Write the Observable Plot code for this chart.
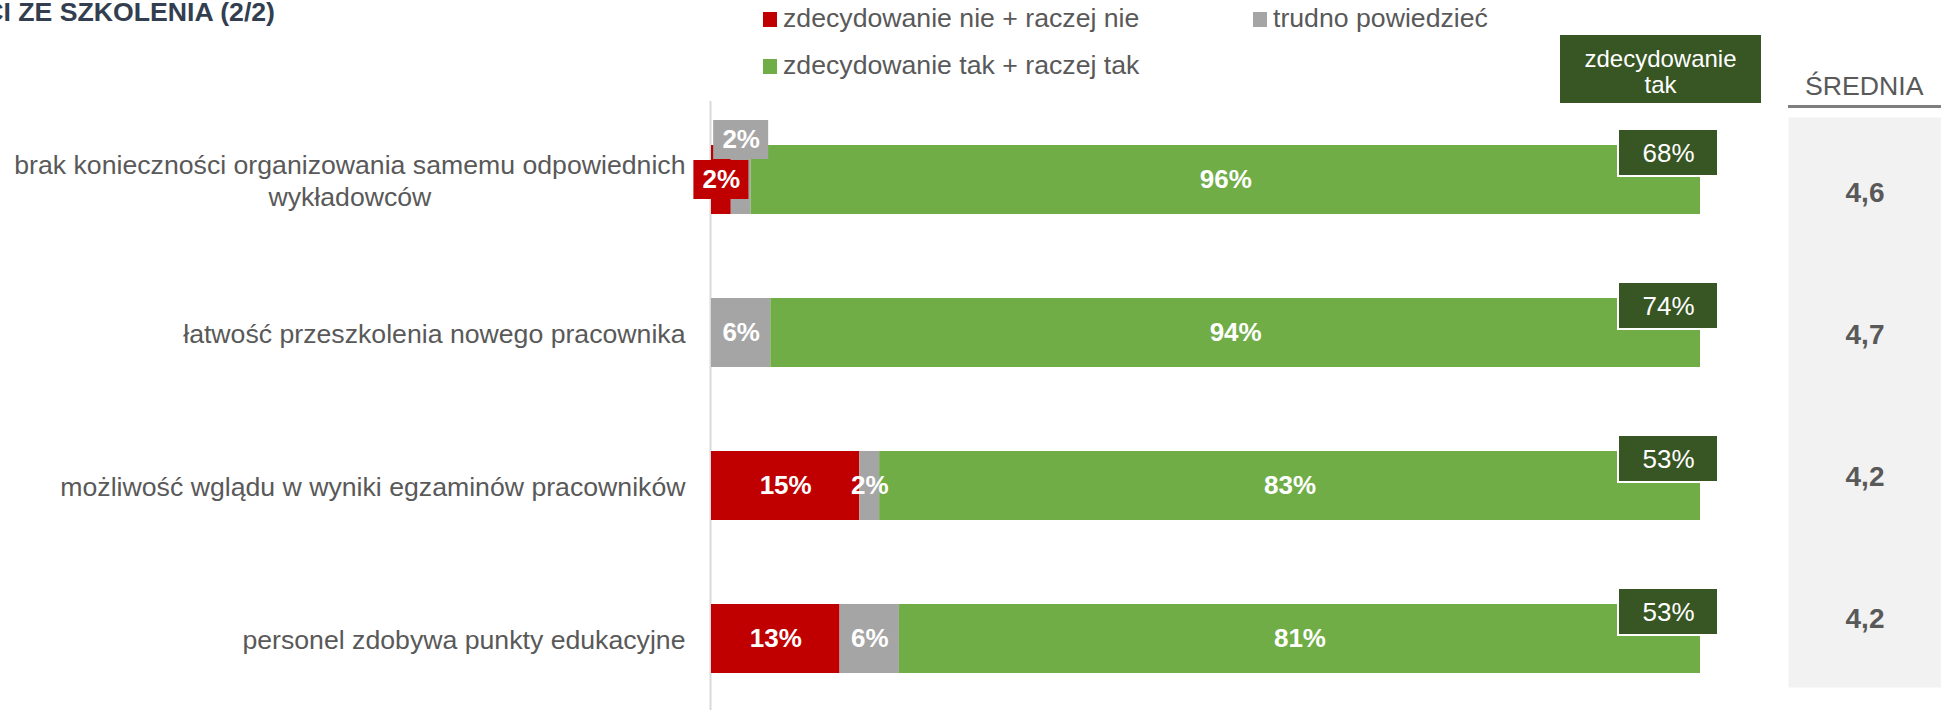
<!DOCTYPE html>
<html>
<head>
<meta charset="utf-8">
<script src="https://cdn.jsdelivr.net/npm/d3@7"></script>
<script src="https://cdn.jsdelivr.net/npm/@observablehq/plot@0.6"></script>
<style>
  html, body { margin: 0; padding: 0; background: #fff; }
  #root { position: relative; width: 1941px; height: 710px; overflow: hidden; font-family: "Liberation Sans", Arial, sans-serif; }
  .abs { position: absolute; }
  #title { top: -1px; right: 1666px; font-size: 26.67px; line-height: 26.67px; font-weight: bold; color: #333F50; white-space: nowrap; }
  .leg { font-size: 26.67px; line-height: 26.67px; color: #595959; white-space: nowrap; }
  .sw { display: inline-block; width: 14px; height: 15px; margin-right: 6px; vertical-align: baseline; }
  #head { left: 1560px; top: 35px; width: 201px; height: 68px; box-sizing: border-box; padding-top: 10.5px; background: #375623; color: #fff; font-size: 24px; line-height: 26px; text-align: center; }
  #sred { left: 1805px; top: 73.4px; font-size: 26.67px; line-height: 26.67px; color: #595959; white-space: nowrap; }
  #sredLine { left: 1788px; top: 105px; width: 153px; height: 3px; background: #7F7F7F; }
</style>
</head>
<body>
<div id="root"></div>
<script>
const categories = [
  "brak konieczności organizowania samemu odpowiednich\nwykładowców",
  "łatwość przeszkolenia nowego pracownika",
  "możliwość wglądu w wyniki egzaminów pracowników",
  "personel zdobywa punkty edukacyjne"
];
const seriesNames = ["zdecydowanie nie + raczej nie", "trudno powiedzieć", "zdecydowanie tak + raczej tak"];
const seriesColors = ["#C00000", "#A5A5A5", "#70AD47"];
const negative = [2, 0, 15, 13];
const neutral = [2, 6, 2, 6];
const positive = [96, 94, 83, 81];
const definitelyYes = [68, 74, 53, 53];
const means = [4.6, 4.7, 4.2, 4.2];
const titleText = "CI ZE SZKOLENIA (2/2)";
const headerText = ["zdecydowanie", "tak"];
const meanHeader = "ŚREDNIA";

// build tables
const rows = [];
const totals = [];
categories.forEach((cat, i) => {
  let acc = 0;
  [negative, neutral, positive].forEach((arr, s) => {
    const v = arr[i];
    rows.push({cat, series: seriesNames[s], value: v, x1: acc, x2: acc + v, mid: acc + v / 2, ci: i, si: s});
    acc += v;
  });
  totals.push({cat, end: acc, top: definitelyYes[i]});
});
const meanRows = categories.map((cat, i) => ({cat, mean: means[i]}));

const shown = rows.filter(d => d.value > 0);
// first row: both small segments get boxed callouts
const redCallout = shown.filter(d => d.ci === 0 && d.si === 0);
const grayCallout = shown.filter(d => d.ci === 0 && d.si === 1);
const plainLabels = shown.filter(d => !(d.ci === 0 && d.si < 2));
const pct = d => d.value + "%";

const root = document.getElementById("root");

const main = Plot.plot({
  width: 1941,
  height: 710,
  marginLeft: 711,
  marginRight: 241,
  marginTop: 144,
  marginBottom: 37,
  style: {fontFamily: "'Liberation Sans', Arial, sans-serif", background: "transparent", overflow: "visible"},
  x: {domain: [0, 100], axis: null},
  y: {type: "band", domain: categories, paddingInner: 0.55, paddingOuter: 0, align: 0.5},
  color: {domain: seriesNames, range: seriesColors},
  marks: [
    Plot.ruleX([0], {stroke: "#D9D9D9", strokeWidth: 2, dx: -1, insetTop: -43, insetBottom: -37}),
    Plot.barX(shown, {x1: "x1", x2: "x2", y: "cat", fill: "series"}),
    Plot.barX(grayCallout, {x1: "mid", x2: "mid", y: "cat", fill: "series", insetLeft: -27.5, insetRight: -27.5, insetTop: -25, insetBottom: 55}),
    Plot.barX(redCallout, {x1: "mid", x2: "mid", y: "cat", fill: "series", insetLeft: -27.5, insetRight: -27.5, insetTop: 15, insetBottom: 15}),
    Plot.text(plainLabels, {x: "mid", y: "cat", text: pct, fill: "white", fontWeight: "bold", fontSize: 26}),
    Plot.text(grayCallout, {x: "mid", y: "cat", text: pct, fill: "white", fontWeight: "bold", fontSize: 26, dy: -40}),
    Plot.text(redCallout, {x: "mid", y: "cat", text: pct, fill: "white", fontWeight: "bold", fontSize: 26}),
    Plot.barX(totals, {x1: "end", x2: "end", y: "cat", fill: "#375623", stroke: "#ffffff", strokeWidth: 2, insetLeft: -82, insetRight: -18, insetTop: -16, insetBottom: 38}),
    Plot.text(totals, {x: "end", y: "cat", dx: -32, dy: -26, text: d => d.top + "%", fill: "white", fontSize: 26}),
    Plot.axisY({tickSize: 0, tickPadding: 26, fontSize: 26.67, color: "#595959", lineHeight: 1.2, label: null})
  ]
});
main.classList.add("abs");
main.style.left = "0px";
main.style.top = "0px";
root.appendChild(main);

const meanPlot = Plot.plot({
  width: 153,
  height: 710,
  marginLeft: 0,
  marginRight: 0,
  marginTop: 117,
  marginBottom: 23,
  style: {fontFamily: "'Liberation Sans', Arial, sans-serif", background: "transparent"},
  x: {axis: null},
  y: {type: "band", domain: categories, padding: 0, axis: null},
  marks: [
    Plot.frame({fill: "#F2F2F2", stroke: "none"}),
    Plot.text(meanRows, {y: "cat", frameAnchor: "middle", text: d => d.mean.toFixed(1).replace(".", ","), fontSize: 28, fontWeight: "bold", fill: "#595959", dy: 4})
  ]
});
meanPlot.classList.add("abs");
meanPlot.style.left = "1788px";
meanPlot.style.top = "0px";
root.appendChild(meanPlot);

// center secondary lines of multi-line category labels under the first line
main.querySelectorAll('g[aria-label="y-axis tick label"] text').forEach(t => {
  const spans = Array.from(t.querySelectorAll("tspan"));
  if (spans.length > 1) {
    const ws = spans.map(s => s.getComputedTextLength());
    const w = Math.max(...ws);
    spans.forEach((s, k) => s.setAttribute("x", -(w - ws[k]) / 2));
  }
});

// HTML overlays: title, legend, header
function add(cls, css) {
  const d = document.createElement("div");
  d.className = "abs " + cls;
  Object.assign(d.style, css || {});
  root.appendChild(d);
  return d;
}
const title = add("", {}); title.id = "title"; title.textContent = titleText;

const legendPos = [
  {left: "763px", top: "5.4px"},
  {left: "1253px", top: "5.4px"},
  {left: "763px", top: "52.4px"}
];
seriesNames.forEach((name, i) => {
  const d = add("leg", legendPos[i]);
  const sw = document.createElement("span");
  sw.className = "sw";
  sw.style.background = seriesColors[i];
  d.appendChild(sw);
  d.appendChild(document.createTextNode(name));
});

const head = add("", {}); head.id = "head"; head.innerHTML = headerText.join("<br>");
const sred = add("", {}); sred.id = "sred"; sred.textContent = meanHeader;
const sl = add("", {}); sl.id = "sredLine";
</script>
</body>
</html>
